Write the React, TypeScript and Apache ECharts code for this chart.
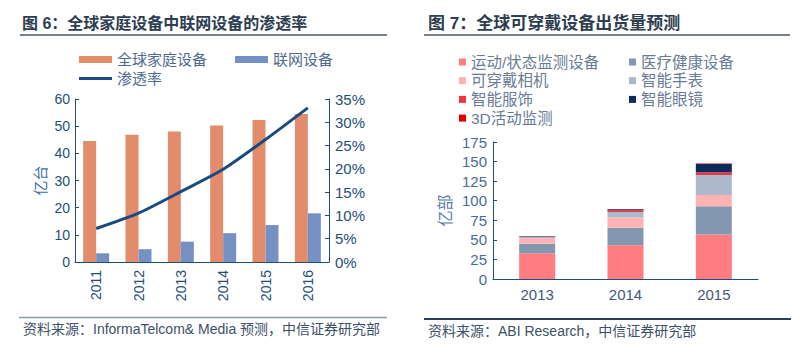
import React, { useEffect, useRef } from "react";
import * as echarts from "echarts";

const years1 = ["2011", "2012", "2013", "2014", "2015", "2016"];
const homeDevices = [44.5, 46.8, 48.0, 50.2, 52.3, 54.5];
const connectedDevices = [3.2, 4.7, 7.5, 10.6, 13.6, 17.9];
const penetration = [0.072, 0.105, 0.151, 0.199, 0.263, 0.331];

const years2 = ["2013", "2014", "2015"];
const sportMonitor = [33, 43, 57];
const medical = [12, 22.5, 36];
const camera = [7.5, 13, 14.4];
const smartWatch = [1.5, 7, 25.5];
const smartClothing = [0.4, 2.4, 3.4];
const smartGlasses = [0.6, 1.2, 10.6];
const activity3D = [0, 0.3, 0.6];

const FONT = "Liberation Sans, Arial, Noto Sans CJK SC, sans-serif";
const AXIS_BLUE = "#1F4E79";

export default function App() {
  const ref = useRef<HTMLDivElement>(null);
  useEffect(() => {
    if (!ref.current) return;
    const chart = echarts.init(ref.current, null, { renderer: "svg" });
    const legendText = { color: "#4F6A8F", fontSize: 15, fontFamily: FONT };
    const rightLegendText = { color: "#6A7C95", fontSize: 15.5, fontFamily: FONT, lineHeight: 18 };
    chart.setOption({
      animation: false,
      backgroundColor: "#ffffff",
      textStyle: { fontFamily: FONT },
      graphic: [
        { type: "text", left: 22, top: 15, style: { text: "图 6：全球家庭设备中联网设备的渗透率", fontSize: 16, fontWeight: "bold", fill: "#2E3D4F", fontFamily: FONT } },
        { type: "line", shape: { x1: 20, y1: 35, x2: 387, y2: 35 }, style: { stroke: "#4A5868", lineWidth: 1.5 } },
        { type: "text", left: 428, top: 15, style: { text: "图 7：全球可穿戴设备出货量预测", fontSize: 17, fontWeight: "bold", fill: "#2E3D4F", fontFamily: FONT } },
        { type: "line", shape: { x1: 424, y1: 35, x2: 790, y2: 35 }, style: { stroke: "#4A5868", lineWidth: 1.5 } },
        { type: "line", shape: { x1: 19, y1: 317.5, x2: 387, y2: 317.5 }, style: { stroke: "#8A98A8", lineWidth: 1.5 } },
        { type: "text", left: 23, top: 322, style: { text: "资料来源：InformaTelcom& Media 预测，中信证券研究部", fontSize: 14, fill: "#3E5068", fontFamily: FONT } },
        { type: "line", shape: { x1: 424, y1: 319, x2: 791, y2: 319 }, style: { stroke: "#2A3F5C", lineWidth: 2 } },
        { type: "text", left: 428, top: 324, style: { text: "资料来源：ABI Research，中信证券研究部", fontSize: 14, fill: "#3E5068", fontFamily: FONT } },
      ],
      legend: [
        { left: 74, top: 47, itemWidth: 33, itemHeight: 7, itemGap: 28, icon: "rect", textStyle: legendText, data: ["全球家庭设备", "联网设备"] },
        { left: 74, top: 66, itemWidth: 33, itemHeight: 3, icon: "rect", textStyle: legendText, data: ["渗透率"] },
        { left: 454, top: 48, orient: "vertical", itemWidth: 7, itemHeight: 7, itemGap: 0.7, icon: "rect", textStyle: rightLegendText, data: ["运动/状态监测设备", "可穿戴相机", "智能服饰", "3D活动监测"] },
        { left: 624, top: 48, orient: "vertical", itemWidth: 7, itemHeight: 7, itemGap: 0.7, icon: "rect", textStyle: rightLegendText, data: ["医疗健康设备", "智能手表", "智能眼镜"] },
      ],
      grid: [
        { left: 75, top: 99, width: 254, height: 163 },
        { left: 493, top: 142, width: 265, height: 137 },
      ],
      xAxis: [
        {
          type: "category", gridIndex: 0, data: years1,
          axisLine: { lineStyle: { color: AXIS_BLUE, width: 1 } },
          axisTick: { inside: true, length: 4, lineStyle: { color: AXIS_BLUE } },
          axisLabel: { rotate: 90, color: AXIS_BLUE, fontSize: 14, margin: 8 },
        },
        {
          type: "category", gridIndex: 1, data: years2,
          axisLine: { lineStyle: { color: AXIS_BLUE, width: 1 } },
          axisTick: { length: 4, lineStyle: { color: AXIS_BLUE } },
          axisLabel: { color: "#44587A", fontSize: 15, margin: 8 },
        },
      ],
      yAxis: [
        {
          type: "value", gridIndex: 0, min: 0, max: 60, interval: 10,
          name: "亿台", nameLocation: "middle", nameRotate: 90, nameGap: 27,
          nameTextStyle: { color: "#3F6FB0", fontSize: 15 },
          axisLine: { show: true, lineStyle: { color: AXIS_BLUE } },
          axisTick: { show: true, inside: true, length: 4, lineStyle: { color: AXIS_BLUE } },
          splitLine: { show: false },
          axisLabel: { color: AXIS_BLUE, fontSize: 14, margin: 5 },
        },
        {
          type: "value", gridIndex: 0, min: 0, max: 0.35, interval: 0.05, position: "right",
          axisLine: { show: true, lineStyle: { color: AXIS_BLUE } },
          axisTick: { show: true, inside: true, length: 4, lineStyle: { color: AXIS_BLUE } },
          splitLine: { show: false },
          axisLabel: { color: AXIS_BLUE, fontSize: 15, margin: 6, formatter: (v: number) => Math.round(v * 100) + "%" },
        },
        {
          type: "value", gridIndex: 1, min: 0, max: 175, interval: 25,
          name: "亿部", nameLocation: "middle", nameRotate: 90, nameGap: 40,
          nameTextStyle: { color: "#5A7AA8", fontSize: 16 },
          axisLine: { show: true, lineStyle: { color: AXIS_BLUE } },
          axisTick: { show: true, inside: true, length: 4, lineStyle: { color: AXIS_BLUE } },
          splitLine: { show: false },
          axisLabel: { color: "#4A6A98", fontSize: 15, margin: 6 },
        },
      ],
      series: [
        { name: "全球家庭设备", type: "bar", xAxisIndex: 0, yAxisIndex: 0, data: homeDevices, barWidth: 13, barGap: "0%", itemStyle: { color: "#E38C6B" } },
        { name: "联网设备", type: "bar", xAxisIndex: 0, yAxisIndex: 0, data: connectedDevices, barWidth: 13, barGap: "0%", itemStyle: { color: "#7590C2" } },
        { name: "渗透率", type: "line", xAxisIndex: 0, yAxisIndex: 1, data: penetration, smooth: 0.25, symbol: "none", lineStyle: { color: "#1B4A80", width: 3 }, itemStyle: { color: "#1B4A80" } },
        { name: "运动/状态监测设备", type: "bar", xAxisIndex: 1, yAxisIndex: 2, stack: "w", barWidth: 36, data: sportMonitor, itemStyle: { color: "#FF7C80" } },
        { name: "医疗健康设备", type: "bar", xAxisIndex: 1, yAxisIndex: 2, stack: "w", barWidth: 36, data: medical, itemStyle: { color: "#8497B0" } },
        { name: "可穿戴相机", type: "bar", xAxisIndex: 1, yAxisIndex: 2, stack: "w", barWidth: 36, data: camera, itemStyle: { color: "#FFB3B5" } },
        { name: "智能手表", type: "bar", xAxisIndex: 1, yAxisIndex: 2, stack: "w", barWidth: 36, data: smartWatch, itemStyle: { color: "#ADB9CA" } },
        { name: "智能服饰", type: "bar", xAxisIndex: 1, yAxisIndex: 2, stack: "w", barWidth: 36, data: smartClothing, itemStyle: { color: "#E8383D" } },
        { name: "智能眼镜", type: "bar", xAxisIndex: 1, yAxisIndex: 2, stack: "w", barWidth: 36, data: smartGlasses, itemStyle: { color: "#0E2A5C" } },
        { name: "3D活动监测", type: "bar", xAxisIndex: 1, yAxisIndex: 2, stack: "w", barWidth: 36, data: activity3D, itemStyle: { color: "#E00000" } },
      ],
    });
    return () => chart.dispose();
  }, []);
  return <div ref={ref} style={{ position: "fixed", left: 0, top: 0, width: 800, height: 357 }} />;
}
